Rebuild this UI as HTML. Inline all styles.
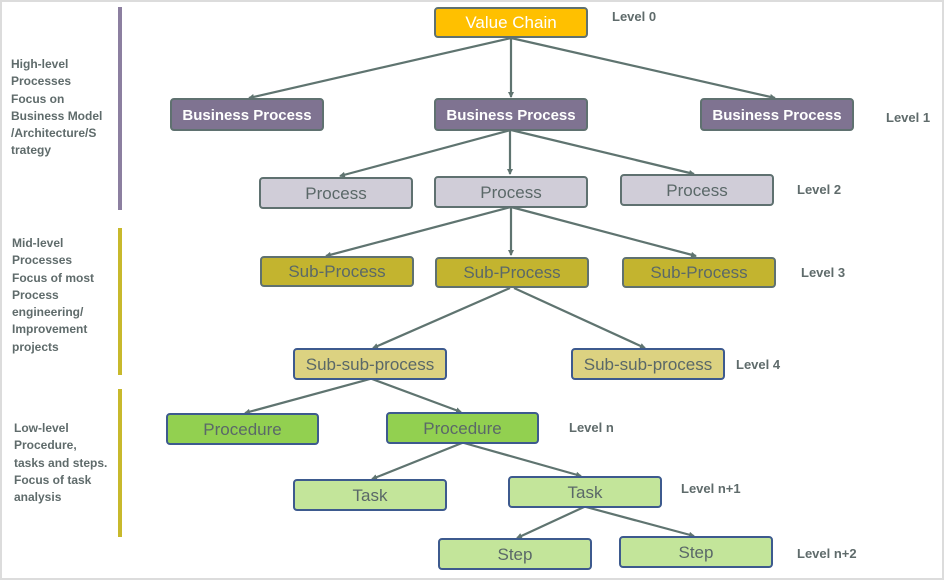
<!DOCTYPE html>
<html><head><meta charset="utf-8"><style>
html,body{margin:0;padding:0;background:#fff}
#c{position:relative;width:944px;height:580px;overflow:hidden;font-family:"Liberation Sans",sans-serif;box-sizing:border-box;border:2px solid #dcdcdc}
.b{position:absolute;box-sizing:border-box;border:2px solid #5f7170;border-radius:4px;display:flex;align-items:center;justify-content:center;font-size:17px;color:#5a6868;white-space:nowrap;padding-top:1px}
.bl{border-color:#3d5a8e}
.l{position:absolute;font-weight:bold;font-size:13px;color:#5f6b6b;white-space:nowrap}
.t{position:absolute;font-weight:bold;font-size:12px;line-height:17.3px;color:#5f6b6b}
.bar{position:absolute;width:4px}
svg{position:absolute;left:-2px;top:-2px}
</style></head><body><div id="c">
<svg width="944" height="580"><defs><marker id="a" markerWidth="6" markerHeight="6" refX="5" refY="3" orient="auto" markerUnits="userSpaceOnUse"><path d="M0,0 L6,3 L0,6z" fill="#5f7470"/></marker></defs>
<g stroke="#5f7470" stroke-width="2.2" fill="none" marker-end="url(#a)">
<line x1="511" y1="38" x2="249" y2="98"/><line x1="511" y1="38" x2="511" y2="97"/><line x1="511" y1="38" x2="775" y2="98"/>
<line x1="511" y1="130" x2="340" y2="176"/><line x1="510" y1="130" x2="510" y2="174"/><line x1="511" y1="130" x2="694" y2="174"/>
<line x1="511" y1="207" x2="326" y2="256"/><line x1="511" y1="207" x2="511" y2="255"/><line x1="511" y1="207" x2="696" y2="256"/>
<line x1="510" y1="288" x2="373" y2="348"/><line x1="514" y1="288" x2="645" y2="348"/>
<line x1="370" y1="379" x2="245" y2="413"/><line x1="372" y1="379" x2="461" y2="412"/>
<line x1="462" y1="443" x2="372" y2="479"/><line x1="464" y1="443" x2="581" y2="476"/>
<line x1="584" y1="507" x2="517" y2="538"/><line x1="586" y1="507" x2="694" y2="536"/>
</g></svg>
<div class="bar" style="left:116px;top:5px;height:203px;background:#8c7fa0"></div>
<div class="bar" style="left:116px;top:226px;height:147px;background:#c8b92c"></div>
<div class="bar" style="left:116px;top:387px;height:148px;background:#c8b92c"></div>
<div class="t" style="left:9px;top:54px">High-level<br>Processes<br>Focus on<br>Business Model<br>/Architecture/S<br>trategy</div>
<div class="t" style="left:10px;top:233px">Mid-level<br>Processes<br>Focus of most<br>Process<br>engineering/<br>Improvement<br>projects</div>
<div class="t" style="left:12px;top:418px">Low-level<br>Procedure,<br>tasks and steps.<br>Focus of task<br>analysis</div>
<div class="b" style="left:432px;top:5px;width:154px;height:31px;background:#ffc000;color:#fff;font-size:17px">Value Chain</div>
<div class="b" style="left:168px;top:96px;width:154px;height:33px;background:#7f7391;color:#fff;font-weight:bold;font-size:15px">Business Process</div>
<div class="b" style="left:432px;top:96px;width:154px;height:33px;background:#7f7391;color:#fff;font-weight:bold;font-size:15px">Business Process</div>
<div class="b" style="left:698px;top:96px;width:154px;height:33px;background:#7f7391;color:#fff;font-weight:bold;font-size:15px">Business Process</div>
<div class="b" style="left:257px;top:175px;width:154px;height:32px;background:#d0cdd8">Process</div>
<div class="b" style="left:432px;top:174px;width:154px;height:32px;background:#d0cdd8">Process</div>
<div class="b" style="left:618px;top:172px;width:154px;height:32px;background:#d0cdd8">Process</div>
<div class="b" style="left:258px;top:254px;width:154px;height:31px;background:#c3b42f">Sub-Process</div>
<div class="b" style="left:433px;top:255px;width:154px;height:31px;background:#c3b42f">Sub-Process</div>
<div class="b" style="left:620px;top:255px;width:154px;height:31px;background:#c3b42f">Sub-Process</div>
<div class="b bl" style="left:291px;top:346px;width:154px;height:32px;background:#dcd281">Sub-sub-process</div>
<div class="b bl" style="left:569px;top:346px;width:154px;height:32px;background:#dcd281">Sub-sub-process</div>
<div class="b bl" style="left:164px;top:411px;width:153px;height:32px;background:#92d050">Procedure</div>
<div class="b bl" style="left:384px;top:410px;width:153px;height:32px;background:#92d050">Procedure</div>
<div class="b bl" style="left:291px;top:477px;width:154px;height:32px;background:#c3e59a">Task</div>
<div class="b bl" style="left:506px;top:474px;width:154px;height:32px;background:#c3e59a">Task</div>
<div class="b bl" style="left:436px;top:536px;width:154px;height:32px;background:#c3e59a">Step</div>
<div class="b bl" style="left:617px;top:534px;width:154px;height:32px;background:#c3e59a">Step</div>
<div class="l" style="left:610px;top:7px">Level 0</div>
<div class="l" style="left:884px;top:108px">Level 1</div>
<div class="l" style="left:795px;top:180px">Level 2</div>
<div class="l" style="left:799px;top:263px">Level 3</div>
<div class="l" style="left:734px;top:355px">Level 4</div>
<div class="l" style="left:567px;top:418px">Level n</div>
<div class="l" style="left:679px;top:479px">Level n+1</div>
<div class="l" style="left:795px;top:544px">Level n+2</div>
</div></body></html>
